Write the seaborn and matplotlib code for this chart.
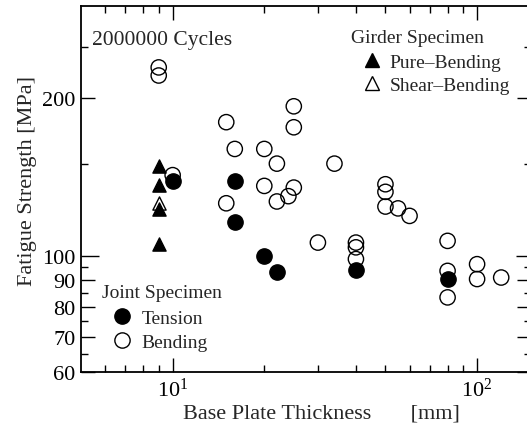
import matplotlib
matplotlib.use("Agg")
import matplotlib.pyplot as plt
import seaborn as sns
import pandas as pd
from matplotlib.lines import Line2D

# ---------------- data ----------------
bending_x = [9, 9, 10, 15, 16, 15, 20, 20, 22, 22, 24, 25, 25, 25, 34, 30,
             40, 40, 40, 50, 50, 50, 55, 60, 80, 80, 80, 100, 100, 120]
bending_y = [229, 221, 142.6, 180, 160, 126, 160, 136, 150, 127, 130, 135, 193, 176, 150, 106,
             106, 103.8, 98.6, 137, 132.5, 124.2, 123.2, 119.2, 106.8, 93.6, 83.3, 96.4, 90.3, 90.9]
tension_x = [10, 16, 16, 20, 22, 40, 80]
tension_y = [138.9, 139, 116, 100, 93.2, 94, 90.3]
pure_x = [9, 9, 9, 9]
pure_y = [148.3, 136.7, 122.8, 105.3]
shear_x = [9]
shear_y = [125.9]

xtick_vals = [10, 100]
xtick_labels = [r"$\mathregular{10^{1}}$", r"$\mathregular{10^{2}}$"]
xminor_vals = [6, 7, 8, 9, 20, 30, 40, 50, 60, 70, 80, 90]
ytick_vals = [60, 70, 80, 90, 100, 200]
ytick_labels = ["60", "70", "80", "90", "100", "200"]
yminor_vals = [65, 75, 85, 95, 150, 250]

girder_title = "Girder Specimen"
girder_labels = ["Pure\u2013Bending", "Shear\u2013Bending"]
joint_title = "Joint Specimen"
joint_labels = ["Tension", "Bending"]
cycles_text = "2000000 Cycles"
xlabel = "Base Plate Thickness       [mm]"
ylabel = "Fatigue Strength [MPa]"

# ---------------- style ----------------
sns.set_theme(style="ticks")
plt.rcParams["font.family"] = ["Liberation Serif", "DejaVu Serif"]
plt.rcParams["mathtext.fontset"] = "custom"
plt.rcParams["mathtext.rm"] = "Liberation Serif"
plt.rcParams["mathtext.it"] = "Liberation Serif:italic"

W, H = 527, 427
fig = plt.figure(figsize=(W / 100, H / 100), dpi=100)
L, R, T, B = 81, 530.7, 7, 373
ax = fig.add_axes([L / W, 1 - B / H, (R - L) / W, (B - T) / H])

df_b = pd.DataFrame({"x": bending_x, "y": bending_y})
df_t = pd.DataFrame({"x": tension_x, "y": tension_y})
df_p = pd.DataFrame({"x": pure_x, "y": pure_y})
df_s = pd.DataFrame({"x": shear_x, "y": shear_y})

circ_s = 11 ** 2
tri_s = 9.5 ** 2
sns.scatterplot(data=df_b, x="x", y="y", ax=ax, marker="o", s=circ_s, color="black",
                facecolor="none", edgecolor="black", linewidth=1.0, zorder=3)
sns.scatterplot(data=df_t, x="x", y="y", ax=ax, marker="o", s=circ_s, color="black",
                edgecolor="black", linewidth=1.0, zorder=4)
sns.scatterplot(data=df_s, x="x", y="y", ax=ax, marker="^", s=tri_s, color="black",
                facecolor="white", edgecolor="black", linewidth=1.0, zorder=5)
sns.scatterplot(data=df_p, x="x", y="y", ax=ax, marker="^", s=tri_s, color="black",
                edgecolor="black", linewidth=1.0, zorder=6)

ax.set_xscale("log")
ax.set_yscale("log")
ax.set_xlim(5, 150)
ax.set_ylim(60, 300)

ax.set_xticks(xtick_vals, labels=xtick_labels)
ax.set_xticks(xminor_vals, minor=True)
ax.xaxis.set_minor_formatter(matplotlib.ticker.NullFormatter())
ax.set_yticks(ytick_vals, labels=ytick_labels)
ax.set_yticks(yminor_vals, minor=True)
ax.yaxis.set_minor_formatter(matplotlib.ticker.NullFormatter())

ax.tick_params(which="both", direction="in", top=True, right=True, colors="black",
               width=1.0, labelsize=16, pad=4)
ax.tick_params(which="major", length=10)
ax.tick_params(which="minor", length=5)
for sp in ax.spines.values():
    sp.set_visible(True)
    sp.set_linewidth(1.3)
    sp.set_color("black")
ax.set_facecolor("white")

ax.set_xlabel(xlabel, fontsize=16, labelpad=1)
ax.xaxis.set_label_coords((321 - L) / (R - L), -0.085)
ax.set_ylabel(ylabel, fontsize=16, labelpad=4)
ax.yaxis.set_label_coords(-0.098, (B - 181.5) / (B - T))

# text annotations
fig.text(91.7 / W, 1 - 45 / H, cycles_text, fontsize=15.5, ha="left", va="baseline")
fig.text(350.7 / W, 1 - 42.7 / H, girder_title, fontsize=14, ha="left", va="baseline")
fig.text(101.7 / W, 1 - 297.5 / H, joint_title, fontsize=14, ha="left", va="baseline")

f_px = 14 * 100 / 72
g_handles = [
    Line2D([], [], ls="none", marker="^", ms=9.5, mfc="black", mec="black", mew=1.0),
    Line2D([], [], ls="none", marker="^", ms=9.5, mfc="none", mec="black", mew=1.0),
]
leg1 = ax.legend(g_handles, girder_labels, loc="center left",
                 bbox_to_anchor=((371.7 - f_px * 0.5) / W, 1 - 74.5 / H),
                 bbox_transform=fig.transFigure, frameon=False, fontsize=14,
                 handlelength=1.0, handletextpad=0.41, labelspacing=0.3,
                 borderpad=0, borderaxespad=0)
ax.add_artist(leg1)
j_handles = [
    Line2D([], [], ls="none", marker="o", ms=11, mfc="black", mec="black", mew=1.0),
    Line2D([], [], ls="none", marker="o", ms=11, mfc="none", mec="black", mew=1.0),
]
leg2 = ax.legend(j_handles, joint_labels, loc="center left",
                 bbox_to_anchor=((121.7 - f_px * 0.5) / W, 1 - 331.2 / H),
                 bbox_transform=fig.transFigure, frameon=False, fontsize=14,
                 handlelength=1.0, handletextpad=0.53, labelspacing=0.3,
                 borderpad=0, borderaxespad=0)

# longer tick at 100
for tk, v in zip(ax.yaxis.get_major_ticks(), ytick_vals):
    if v == 100:
        tk.tick1line.set_markersize(13)
        tk.tick2line.set_markersize(11)

fig.savefig("out.png", dpi=100)
